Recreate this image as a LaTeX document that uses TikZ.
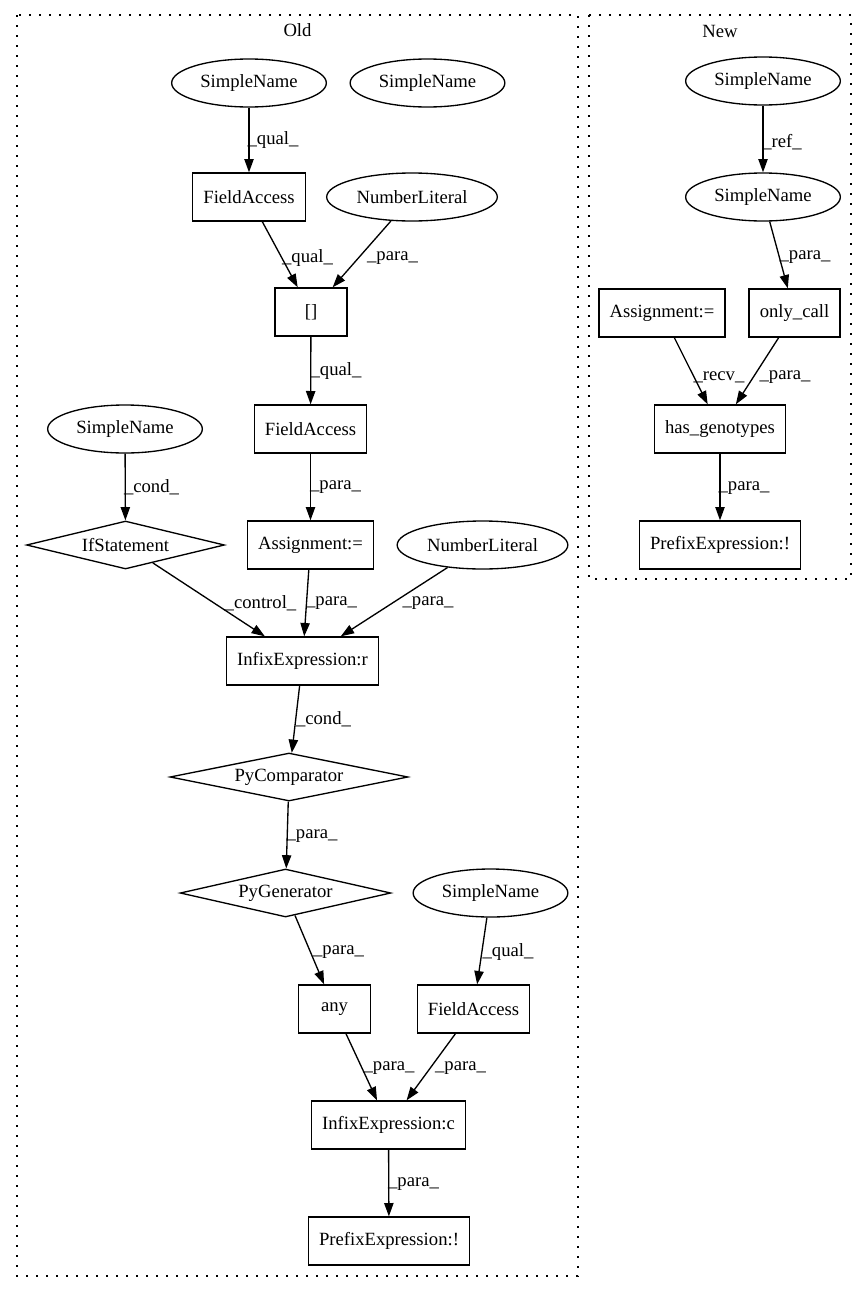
\documentclass[tikz,border=0pt]{standalone}
\usepackage{fontspec}
\setmainfont{Liberation Serif}
\usetikzlibrary{shapes.geometric,arrows.meta}
\begin{document}
\begin{tikzpicture}[x=0.75pt,y=-0.75pt,
  every node/.style={font=\fontsize{14pt}{16pt}\selectfont},
  box/.style={draw, rectangle, line width=1pt, minimum height=36pt, minimum width=54pt, inner xsep=8pt, inner ysep=0pt},
  ell/.style={draw, ellipse, line width=1pt, minimum height=36pt, inner sep=0pt},
  dia/.style={draw, diamond, aspect=4, line width=1pt, minimum height=36pt, inner sep=0pt},
  arr/.style={line width=1pt, -{Triangle[length=10pt,width=7pt]}},
  lbl/.style={inner sep=0pt},
  clus/.style={line width=1pt, dash pattern=on 1.5pt off 6pt}
]
\useasboundingbox (0,0) rectangle (867,1292);
\fill[white] (0,0) rectangle (867,1292);

% clusters
\draw[clus] (17,15) rectangle (578,1276);
\draw[clus] (589,15) rectangle (851,579);
\node (oldlbl) at (297.5,30) {Old};
\node (newlbl) at (720,31) {New};

% Old nodes
\node[ell, minimum width=116pt] (sn1) at (249,83) {SimpleName};
\node[ell, minimum width=116pt] (sn2) at (427.5,83) {SimpleName};
\node[box] (fa1) at (249,197) {FieldAccess};
\node[ell, minimum width=128pt] (nl1) at (412,197) {NumberLiteral};
\node[box] (br) at (311,312) {[]};
\node[box] (fa2) at (310.5,429) {FieldAccess};
\node[ell, minimum width=116pt] (sn3) at (125,429) {SimpleName};
\node[dia, minimum width=148.5pt] (ifs) at (125.5,545) {IfStatement};
\node[box] (asg) at (310.5,545) {Assignment:=};
\node[ell, minimum width=128pt] (nl2) at (482.5,545) {NumberLiteral};
\node[box] (infr) at (302.5,661) {InfixExpression:r};
\node[dia, minimum width=178.5pt] (pyc) at (289,777) {PyComparator};
\node[dia, minimum width=158pt] (pyg) at (285.5,893) {PyGenerator};
\node[ell, minimum width=116pt] (sn4) at (490.5,893) {SimpleName};
\node[box] (any) at (334.5,1009) {any};
\node[box] (fa3) at (473.5,1009) {FieldAccess};
\node[box] (infc) at (388.5,1125) {InfixExpression:c};
\node[box] (pre) at (389,1241) {PrefixExpression:!};

% New nodes
\node[ell, minimum width=116pt] (nsn1) at (763,81) {SimpleName};
\node[ell, minimum width=116pt] (nsn2) at (763,197) {SimpleName};
\node[box] (nasg) at (662,313) {Assignment:=};
\node[box] (only) at (794.5,313) {only\_call};
\node[box] (hasg) at (720,429) {has\_genotypes};
\node[box] (npre) at (720,545) {PrefixExpression:!};

% Old edges
\draw[arr] (sn1) -- (fa1);
\draw[arr] (fa1) -- (br);
\draw[arr] (nl1) -- (br);
\draw[arr] (br) -- (fa2);
\draw[arr] (fa2) -- (asg);
\draw[arr] (sn3) -- (ifs);
\draw[arr] (ifs) -- (infr);
\draw[arr] (asg) -- (infr);
\draw[arr] (nl2) -- (infr);
\draw[arr] (infr) -- (pyc);
\draw[arr] (pyc) -- (pyg);
\draw[arr] (pyg) -- (any);
\draw[arr] (sn4) -- (fa3);
\draw[arr] (any) -- (infc);
\draw[arr] (fa3) -- (infc);
\draw[arr] (infc) -- (pre);

% New edges
\draw[arr] (nsn1) -- (nsn2);
\draw[arr] (nsn2) -- (only);
\draw[arr] (nasg) -- (hasg);
\draw[arr] (only) -- (hasg);
\draw[arr] (hasg) -- (npre);

% Old labels
\node[lbl] (l1) at (273,140) {\_qual\_};
\node[lbl] (l2) at (307.5,258) {\_qual\_};
\node[lbl] (l3) at (392.5,258) {\_para\_};
\node[lbl] (l4) at (336,371) {\_qual\_};
\node[lbl] (l5) at (335.5,487) {\_para\_};
\node[lbl] (l6) at (151.5,487) {\_cond\_};
\node[lbl] (l7) at (260.5,603) {\_control\_};
\node[lbl] (l8) at (331.5,603) {\_para\_};
\node[lbl] (l9) at (428,603) {\_para\_};
\node[lbl] (l10) at (323.5,719) {\_cond\_};
\node[lbl] (l11) at (312,836) {\_para\_};
\node[lbl] (l12) at (338.5,952) {\_para\_};
\node[lbl] (l13) at (508,952) {\_qual\_};
\node[lbl] (l14) at (389,1068) {\_para\_};
\node[lbl] (l15) at (460.5,1068) {\_para\_};
\node[lbl] (l16) at (413.5,1184) {\_para\_};

% New labels
\node[lbl] (n1) at (782,142) {\_ref\_};
\node[lbl] (n2) at (805,257) {\_para\_};
\node[lbl] (n3) at (719,377) {\_recv\_};
\node[lbl] (n4) at (785,377) {\_para\_};
\node[lbl] (n5) at (744,488) {\_para\_};
\end{tikzpicture}
\end{document}
